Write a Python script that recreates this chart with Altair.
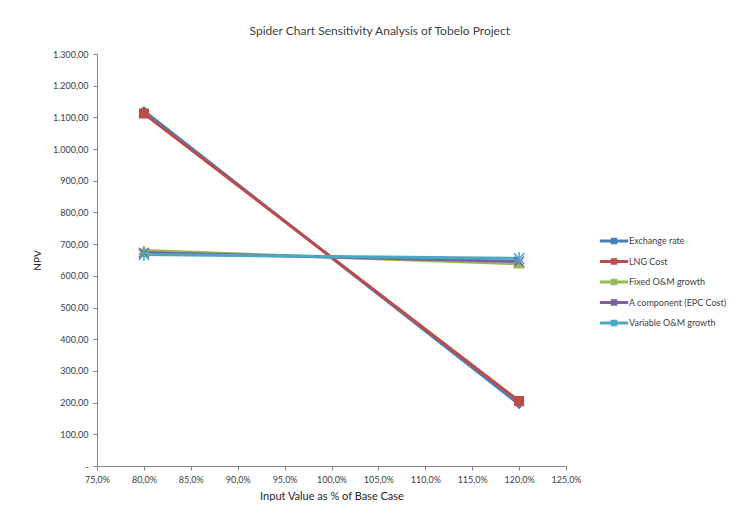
import altair as alt
import pandas as pd

series = ["Exchange rate", "LNG Cost", "Fixed O&M growth", "A component (EPC Cost)", "Variable O&M growth"]
colors = ["#4A7EBB", "#BE4B48", "#98B954", "#7D60A0", "#46AAC5"]
x_pct = [80.0, 120.0]
npv_exchange = [1120.0, 195.0]
npv_lng = [1112.0, 205.0]
npv_fixed = [680.0, 638.0]
npv_acomp = [673.0, 645.0]
npv_variable = [667.0, 655.0]
y_ticks = list(range(0, 1301, 100))
x_ticks = [75, 80, 85, 90, 95, 100, 105, 110, 115, 120, 125]

values = [npv_exchange, npv_lng, npv_fixed, npv_acomp, npv_variable]
rows = []
for i, (s, v) in enumerate(zip(series, values)):
    for xv, yv in zip(x_pct, v):
        rows.append({"series": s, "marker": s, "x": xv, "npv": yv, "ord": i})
df = pd.DataFrame(rows)

x_path = "M-1,-1L1,1M-1,1L1,-1"
ast_path = "M-1,-1L1,1M-1,1L1,-1M0,-1.2L0,1.2"
shapes = ["diamond", "square", "triangle-up", x_path, ast_path]
legend_sym = "M-2,0L2,0M-0.25,-0.25L0.25,-0.25L0.25,0.25L-0.25,0.25Z"

FONT = "Lato"

x_axis = alt.Axis(values=x_ticks, title="Input Value as % of Base Case",
                  labelExpr="replace(format(datum.value, '.1f'), '.', ',') + '%'",
                  grid=False, tickSize=4, labelPadding=5, titlePadding=6,
                  labelFontSize=9, titleFontSize=11, titleFontWeight="normal",
                  labelFlush=False, labelOverlap=False)
y_axis = alt.Axis(values=y_ticks, title="NPV",
                  labelExpr="datum.value == 0 ? '-' : replace(replace(replace(format(datum.value, ',.2f'), ',', '#'), '.', ','), '#', '.')",
                  grid=False, tickSize=4, labelPadding=5, titlePadding=10,
                  labelFontSize=9, titleFontSize=10, titleFontWeight="normal",
                  labelOverlap=False)
x_scale = alt.Scale(domain=[75, 125], nice=False)
y_scale = alt.Scale(domain=[0, 1300], nice=False)

lines = alt.Chart(df).mark_line(strokeWidth=3).encode(
    x=alt.X("x:Q", scale=x_scale, axis=x_axis),
    y=alt.Y("npv:Q", scale=y_scale, axis=y_axis),
    color=alt.Color("series:N", scale=alt.Scale(domain=series, range=colors),
                    legend=alt.Legend(title=None, orient="none", legendX=508, legendY=178,
                                      symbolType=legend_sym, symbolSize=200,
                                      symbolStrokeWidth=3, labelFontSize=9,
                                      labelOffset=6, rowPadding=3.5, labelLimit=200,
                                      padding=0)),
    order="ord:Q",
    detail="series:N",
)

points = alt.Chart(df).mark_point(filled=True, strokeWidth=1.5, opacity=1).encode(
    x=alt.X("x:Q", scale=x_scale, axis=x_axis),
    y=alt.Y("npv:Q", scale=y_scale, axis=y_axis),
    fill=alt.Fill("marker:N", scale=alt.Scale(domain=series, range=colors), legend=None),
    stroke=alt.Stroke("marker:N", scale=alt.Scale(domain=series, range=colors), legend=None),
    shape=alt.Shape("marker:N", scale=alt.Scale(domain=series, range=shapes), legend=None),
    size=alt.Size("marker:N", scale=alt.Scale(domain=series, range=[60, 110, 60, 40, 50]), legend=None),
)

chart = alt.layer(lines, points).resolve_scale(
    fill="independent", stroke="independent", shape="independent", size="independent"
).properties(
    width=469, height=412,
    padding={"left": 24, "top": 17, "right": 0, "bottom": 0},
    title=alt.Title("Spider Chart Sensitivity Analysis of Tobelo Project", fontSize=12,
                    font=FONT, color="#404040", fontWeight="normal", anchor="middle",
                    frame="bounds", offset=12),
).configure_view(stroke=None).configure_axis(
    domainColor="#868686", tickColor="#868686", labelColor="#404040", titleColor="#262626",
    labelFont=FONT, titleFont=FONT,
).configure_legend(labelFont=FONT, labelColor="#404040")

chart.save("out.html", embed_options={"renderer": "svg", "actions": False})
